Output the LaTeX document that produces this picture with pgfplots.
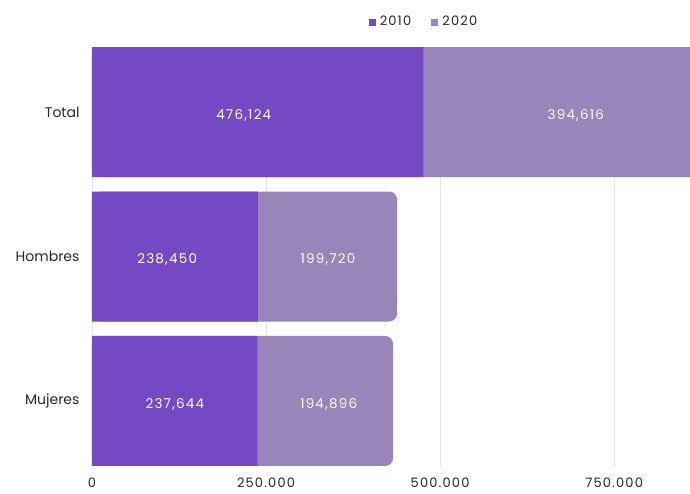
\documentclass[border=0pt]{standalone}
\usepackage{fontspec}
\setmainfont{Poppins}
\newfontfamily\numfont[LetterSpace=9]{Poppins}
\usepackage{pgfplots}
\pgfplotsset{compat=1.18}

\definecolor{c2010}{RGB}{118,73,196}
\definecolor{c2020}{RGB}{152,133,185}
\definecolor{gridc}{RGB}{228,228,228}
\definecolor{txt}{RGB}{40,40,40}

\begin{document}
\begin{tikzpicture}
\begin{axis}[
  scale only axis,
  width=598pt, height=419pt,
  xmin=0, xmax=859000,
  ymin=-0.45, ymax=2.45,
  axis line style={draw=none},
  scaled x ticks=false,
  xtick={0,250000,500000,750000},
  xticklabels={0,250.000,500.000,750.000},
  ytick={0,1,2},
  yticklabels={Mujeres,Hombres,Total},
  tick style={draw=none},
  xmajorgrids, grid style={gridc, line width=0.8pt},
  xticklabel style={font=\numfont\fontsize{13}{15}\selectfont, text=txt, yshift=-8pt},
  yticklabel style={font=\fontsize{14}{16}\selectfont, text=txt, xshift=-9pt},
  legend style={draw=none, at={(0.555,1.06)}, anchor=center,
    legend columns=2, font=\numfont\fontsize{13}{15}\selectfont, text=txt,
    /tikz/every even column/.append style={column sep=18pt}},
  legend image code/.code={\fill[#1] (0pt,-3pt) rectangle (6pt,3pt);
    \path[draw=none, fill=none] (0pt,0pt) -- (9pt,0pt);},
  clip=true,
]
\addlegendimage{c2010}
\addlegendentry{2010}
\addlegendimage{c2020}
\addlegendentry{2020}
% 2020 drawn as the full total, with rounded ends; 2010 laid over it
\addplot[xbar, bar shift=0pt, bar width=130pt, fill=c2020, draw=none,
  rounded corners=8pt, forget plot] coordinates {
  (870740,2) (438170,1) (432540,0)
};
\addplot[xbar, bar shift=0pt, bar width=130pt, fill=c2010, draw=none,
  forget plot] coordinates {
  (476124,2) (238450,1) (237644,0)
};
% value labels
\addplot[only marks, mark=none, forget plot,
  nodes near coords, point meta=explicit symbolic,
  every node near coord/.append style={anchor=center, text=white,
    font=\numfont\fontsize{13.5}{15}\selectfont, yshift=-3pt}] coordinates {
  (218000,2) [476,124]
  (695000,2) [394,616]
  (108000,1) [238,450]
  (339000,1) [199,720]
  (119000,0) [237,644]
  (340000,0) [194,896]
};
\end{axis}
\pgfresetboundingbox
\path (-92pt,-27pt) rectangle (598pt,466pt);
\end{tikzpicture}
\end{document}
